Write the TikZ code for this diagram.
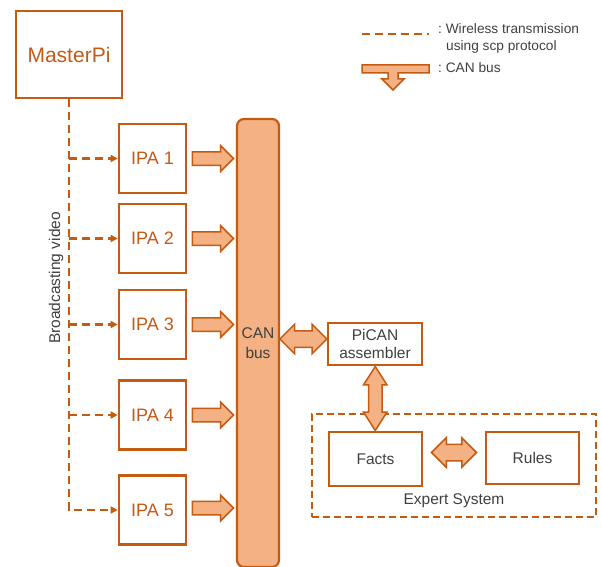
\documentclass[tikz,border=0pt]{standalone}
\usepackage{fontspec}
\setmainfont{Liberation Sans}
\usetikzlibrary{shapes.arrows,arrows.meta,calc}
\definecolor{rust}{HTML}{C55A11}
\definecolor{peach}{HTML}{F4B183}
\definecolor{ink}{HTML}{404040}

\begin{document}
\begin{tikzpicture}[x=1pt,y=-1pt,
    box/.style={draw=rust,line width=2.6pt,fill=white,inner sep=0pt,align=center,text=ink,font=\fontsize{15.5}{18}\selectfont},
    ipabox/.style={box,minimum width=67pt,minimum height=69pt,text=rust,font=\fontsize{18}{20}\selectfont},
    wireless/.style={draw=rust,line width=2.2pt,dash pattern=on 8pt off 5pt},
    wirelessarrow/.style={wireless,-{Triangle[length=7pt,width=7pt]}},
    busarrow/.style={single arrow,draw=rust,fill=peach,line width=1.5pt,inner sep=6pt,single arrow head extend=6pt,minimum height=41pt},
    buslink/.style={double arrow,draw=rust,fill=peach,line width=1.5pt,inner sep=7.5pt,double arrow head extend=6.5pt},
    legendtext/.style={anchor=west,inner sep=0pt,text=ink,font=\fontsize{13.7}{17}\selectfont\frenchspacing,align=left}]
        \useasboundingbox (0,0) rectangle (602,567);
        %% Legend
        \draw[wireless] (362,34) -- (429,34);
        \node[legendtext] (legwire) at (438,38) {: Wireless transmission\\\hspace*{8pt}using scp protocol};
        \draw[draw=rust,fill=peach,line width=1.5pt] (362,65) -- (429,65) -- (429,73) -- (398,73) -- (398,79) -- (404,79) -- (393,90) -- (382,79) -- (388,79) -- (388,73) -- (362,73) -- cycle;
        \node[legendtext] (legbus) at (438,68) {: CAN bus};
        %% MasterPi
        \node[box,minimum width=106pt,minimum height=87pt,text=rust,font=\fontsize{21}{23}\selectfont] (master) at (69,54.5) {MasterPi};
        %% IPA blocks
        \node[ipabox] (ipa1) at (152.5,158.5) {IPA 1};
        \node[ipabox] (ipa2) at (152.5,238.5) {IPA 2};
        \node[ipabox] (ipa3) at (152.5,324.5) {IPA 3};
        \node[ipabox] (ipa4) at (152.5,415) {IPA 4};
        \node[ipabox] (ipa5) at (152.5,510) {IPA 5};
        %% CAN bus
        \node[draw=rust,fill=peach,line width=2.2pt,rounded corners=7pt,minimum width=42pt,minimum height=448pt,align=center,text=ink,font=\fontsize{15.5}{20}\selectfont] (bus) at (258,343) {CAN\\bus};
        %% broadcast (dashed)
        \draw[wirelessarrow] (master.south) |- (ipa5.west);
        \draw[wirelessarrow] (master.south |- ipa1.west) -- (ipa1.west);
        \draw[wirelessarrow] (master.south |- ipa2.west) -- (ipa2.west);
        \draw[wirelessarrow] (master.south |- ipa3.west) -- (ipa3.west);
        \draw[wirelessarrow] (master.south |- ipa4.west) -- (ipa4.west);
        \node[rotate=90,text=ink,font=\fontsize{15.5}{18}\selectfont] (bcast) at (56,278) {Broadcasting video};
        %% IPA to bus
        \node[busarrow] (arr1) at ($(ipa1.east)!0.5!(ipa1.east -| bus.west)+(-2,0)$) {};
        \node[busarrow] (arr2) at ($(ipa2.east)!0.5!(ipa2.east -| bus.west)+(-2,0)$) {};
        \node[busarrow] (arr3) at ($(ipa3.east)!0.5!(ipa3.east -| bus.west)+(-2,0)$) {};
        \node[busarrow] (arr4) at ($(ipa4.east)!0.5!(ipa4.east -| bus.west)+(-2,0)$) {};
        \node[busarrow] (arr5) at ($(ipa5.east)!0.5!(ipa5.east -| bus.west)+(-2,-2)$) {};
        %% PiCAN and expert system
        \node[box,minimum width=94pt,minimum height=42pt] (pican) at (375,344) {PiCAN\\assembler};
        \node[draw=rust,line width=2.4pt,dash pattern=on 7pt off 4pt,minimum width=284pt,minimum height=103pt] (expert) at (454,465.5) {};
        \node[box,minimum width=93pt,minimum height=54pt] (facts) at (375.5,459) {Facts};
        \node[box,minimum width=93pt,minimum height=52pt] (rules) at (532.5,458) {Rules};
        \node[text=ink,font=\fontsize{15.5}{18}\selectfont] (exlabel) at (454,501) {Expert System};
        %% double arrows
        \node[buslink,minimum height=47pt] (lnkbus) at ($(bus.east |- pican.west)!0.5!(pican.west)+(0,-5)$) {};
        \node[buslink,minimum height=64pt,rotate=90,inner sep=6pt,double arrow head extend=5pt,double arrow tip angle=65] (lnkfacts) at ($(pican.south)!0.5!(facts.north)$) {};
        \node[buslink,minimum height=45pt] (lnkrules) at ($(facts.east)!0.5!(rules.west)+(0,-6)$) {};
    \end{tikzpicture}
\end{document}
